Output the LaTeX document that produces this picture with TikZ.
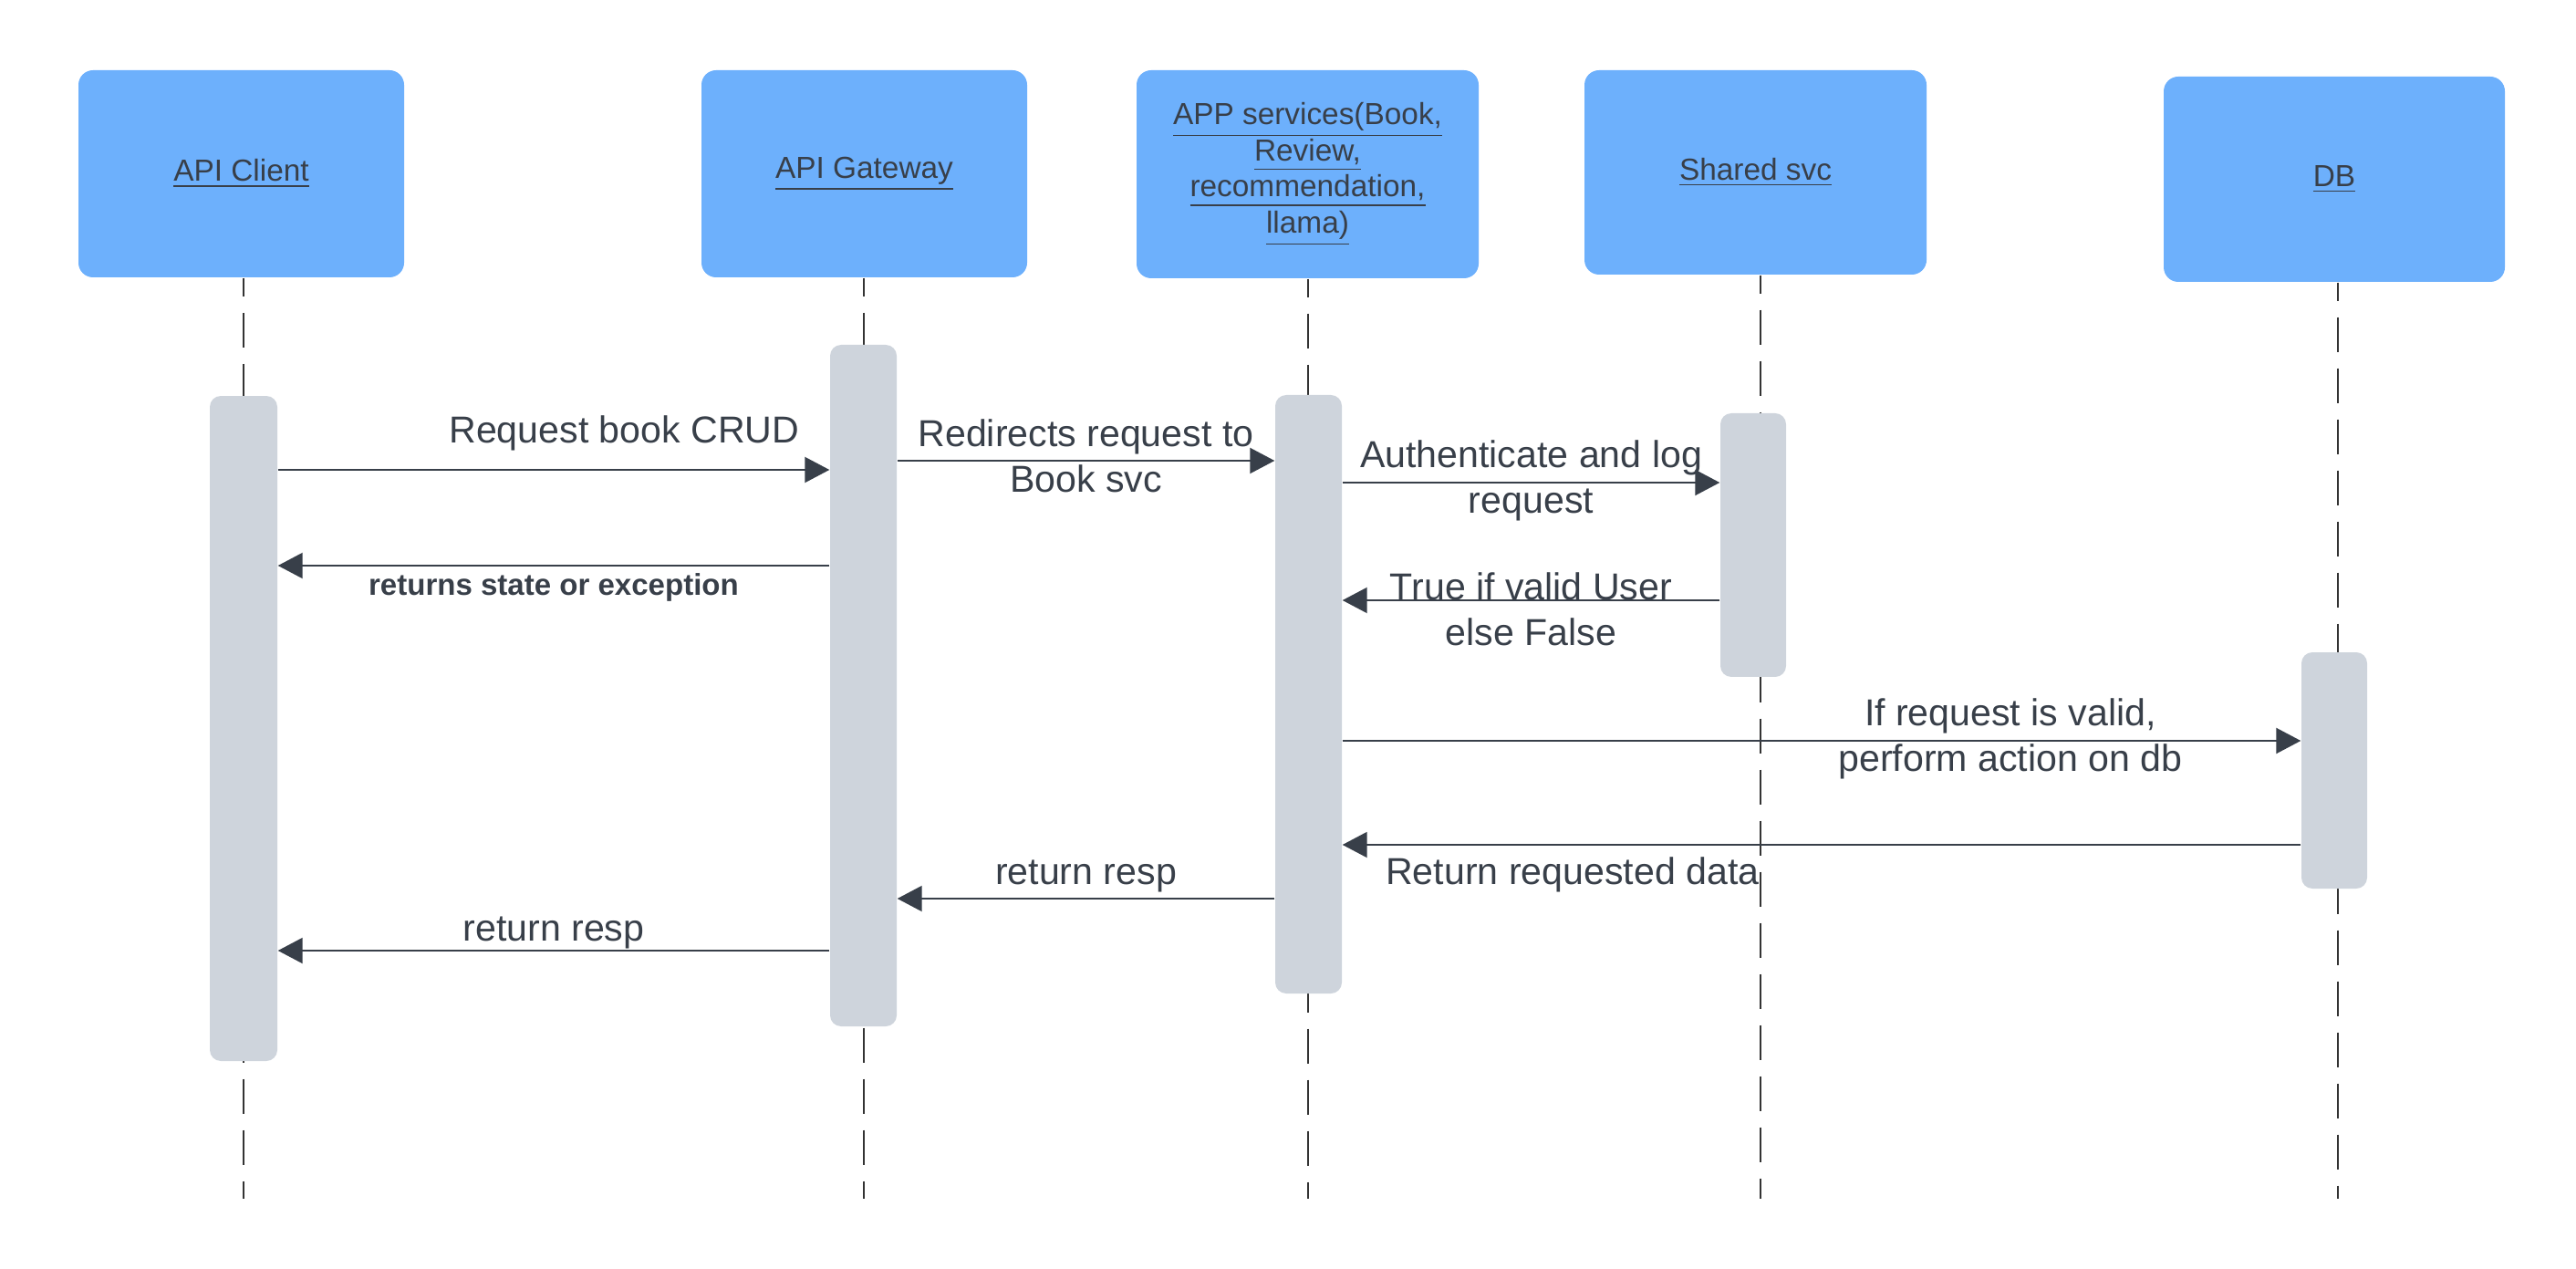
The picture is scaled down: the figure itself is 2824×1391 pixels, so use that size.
\documentclass[tikz,border=0pt]{standalone}
\usepackage{fontspec}
\setmainfont{Liberation Sans}
\usepackage{tikz}
\usetikzlibrary{arrows.meta,positioning,calc}
\usepackage{xcolor}
\definecolor{hdrblue}{HTML}{6DB0FC}
\definecolor{bargray}{HTML}{CED4DC}
\definecolor{inkgray}{HTML}{383F49}

\begin{document}
\begin{tikzpicture}[
  x=0.1mm,
  y=-0.1mm,
  flow/.style={-{Triangle[length=2.7mm,width=2.8mm]},line width=.2mm,draw=inkgray},
  header/.style={rounded corners=1.6mm,fill=hdrblue,align=center,text=inkgray,
    font=\fontsize{9.5}{11.3}\selectfont,inner sep=0pt},
  lifeline/.style={draw=black!80,line width=.2mm,dash pattern=on 3.8mm off 1.8mm,dash phase=1.8mm},
  activation/.style={rounded corners=1.2mm,fill=bargray,inner sep=0pt},
  msg/.style={align=center,text=inkgray,font=\fontsize{11.7}{14.2}\selectfont,inner sep=0pt},
  msgbold/.style={msg,font=\fontsize{9.4}{11.3}\selectfont\bfseries}
]
\useasboundingbox (0,0) rectangle (2824,1391);

\node[header,minimum width=35.7mm,minimum height=22.7mm] (client) at (264.5,190.5)
  {\underline{API Client}};
\node[header,minimum width=35.7mm,minimum height=22.7mm] (gateway) at (947.5,190.5)
  {\underline{API Gateway}};
\node[header,minimum width=37.5mm,minimum height=22.8mm] (app) at (1433.5,191)
  {\underline{APP services(Book,}\\\underline{Review,}\\\underline{recommendation,}\\\underline{llama)}};
\node[header,minimum width=37.5mm,minimum height=22.4mm] (shared) at (1924.5,189)
  {\underline{Shared svc}};
\node[header,minimum width=37.4mm,minimum height=22.5mm] (db) at (2559,196.5)
  {\underline{DB}};

\coordinate (clientend) at (267,1314);
\coordinate (gatewayend) at (947,1314);
\coordinate (append) at (1434,1314);
\coordinate (sharedend) at (1930,1314);
\coordinate (dbend) at (2563,1314);

\draw[lifeline] (client.south -| clientend) -- (clientend);
\draw[lifeline] (gateway.south -| gatewayend) -- (gatewayend);
\draw[lifeline] (app.south -| append) -- (append);
\draw[lifeline] (shared.south -| sharedend) -- (sharedend);
\draw[lifeline] (db.south -| dbend) -- (dbend);

\node[activation,minimum width=7.4mm,minimum height=72.9mm] (clientbar) at (267,798.5) {};
\node[activation,minimum width=7.3mm,minimum height=74.7mm] (gatebar) at (946.5,751.5) {};
\node[activation,minimum width=7.3mm,minimum height=65.6mm] (appbar) at (1434.5,761) {};
\node[activation,minimum width=7.2mm,minimum height=28.9mm] (sharedbar) at (1922,597.5) {};
\node[activation,minimum width=7.2mm,minimum height=25.9mm] (dbbar) at (2559,844.5) {};

\draw[flow] (clientbar.east |- 0,515) --
  node[msg,pos=.628,yshift=4mm]{Request book CRUD} (gatebar.west |- 0,515);
\draw[flow] (gatebar.east |- 0,505) --
  node[msg,midway,yshift=.5mm]{Redirects request to\\Book svc} (appbar.west |- 0,505);
\draw[flow] (appbar.east |- 0,529) --
  node[msg,midway,yshift=.2mm]{Authenticate and log\\request} (sharedbar.west |- 0,529);
\draw[flow] (gatebar.west |- 0,620) --
  node[msgbold,midway,yshift=-2.4mm]{returns state or exception} (clientbar.east |- 0,620);
\draw[flow] (sharedbar.west |- 0,658) --
  node[msg,midway,yshift=-1mm]{True if valid User\\else False} (appbar.east |- 0,658);
\draw[flow] (appbar.east |- 0,812) --
  node[msg,pos=.697,yshift=.2mm]{If request is valid,\\perform action on db} (dbbar.west |- 0,812);
\draw[flow] (dbbar.west |- 0,926) --
  node[msg,pos=.76,yshift=-3.3mm]{Return requested data} (appbar.east |- 0,926);
\draw[flow] (appbar.west |- 0,985) --
  node[msg,midway,yshift=2.5mm]{return resp} (gatebar.east |- 0,985);
\draw[flow] (gatebar.west |- 0,1042) --
  node[msg,midway,yshift=2mm]{return resp} (clientbar.east |- 0,1042);

\end{tikzpicture}
\end{document}
